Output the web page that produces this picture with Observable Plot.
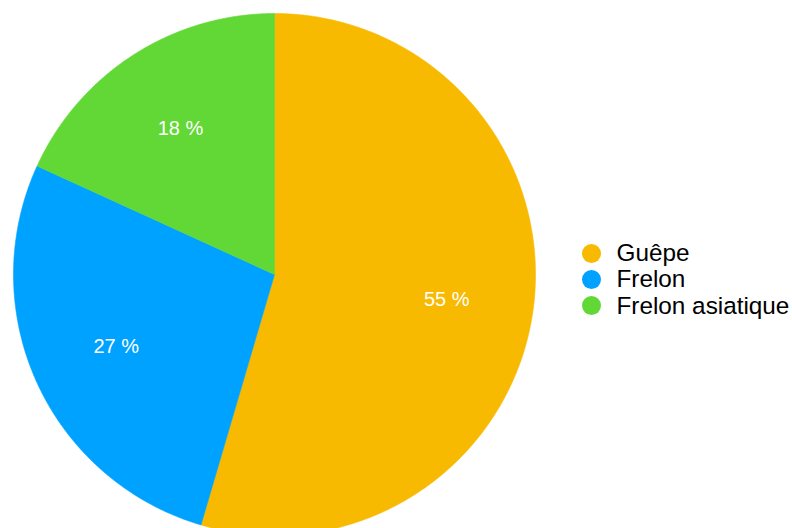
<!DOCTYPE html>
<html>
<head>
<meta charset="utf-8">
<script src="https://cdn.jsdelivr.net/npm/d3@7"></script>
<script src="https://cdn.jsdelivr.net/npm/@observablehq/plot@0.6"></script>
<style>
  html, body { margin: 0; padding: 0; background: #fff; }
  #wrap { position: relative; width: 792px; height: 528px; overflow: hidden; font-family: "Liberation Sans", Arial, sans-serif; }
  #legend { position: absolute; left: 582px; top: 240px; }
  .row { display: flex; align-items: center; height: 26.3px; font-size: 24.3px; color: #000; white-space: nowrap; }
  .sw { width: 19px; height: 19px; border-radius: 50%; margin-right: 15.5px; flex: none; }
</style>
</head>
<body>
<div id="wrap"></div>
<script>
const categories = ["Guêpe", "Frelon", "Frelon asiatique"];
const values = [6, 3, 2];
const colors = ["#F8BA00", "#00A2FF", "#61D836"];

const total = d3.sum(values);
const arcs = d3.pie().sort(null).value(d => d.value)(categories.map((c, i) => ({key: c, value: values[i]})));

// polygon points for each slice, in units of the pie radius (v pointing up)
const pts = [];
arcs.forEach(a => {
  const n = Math.max(2, Math.ceil((a.endAngle - a.startAngle) / 0.005));
  pts.push({key: a.data.key, u: 0, v: 0});
  for (let k = 0; k <= n; k++) {
    const t = a.startAngle + (a.endAngle - a.startAngle) * k / n;
    pts.push({key: a.data.key, u: Math.sin(t), v: Math.cos(t)});
  }
  pts.push({key: a.data.key, u: 0, v: 0});
});
const labels = arcs.map(a => {
  const m = (a.startAngle + a.endAngle) / 2;
  return {key: a.data.key, u: Math.sin(m) * 2 / 3, v: Math.cos(m) * 2 / 3,
          text: Math.round(a.data.value / total * 100) + " %"};
});

const W = 792, H = 528, cx = 274, cy = 274, R = 261;
const chart = Plot.plot({
  width: W, height: H,
  margin: 0,
  x: {domain: [-cx / R, (W - cx) / R], axis: null},
  y: {domain: [-(H - cy) / R, cy / R], axis: null},
  color: {domain: categories, range: colors},
  style: {fontFamily: "'Liberation Sans', Arial, sans-serif", background: "white"},
  marks: [
    Plot.line(pts, {x: "u", y: "v", z: "key", fill: "key", stroke: "key", strokeWidth: 0.6, curve: "linear"}),
    Plot.text(labels, {x: "u", y: "v", text: "text", fill: "white", fontSize: 20, textAnchor: "middle", lineAnchor: "middle"})
  ]
});
const wrap = document.getElementById("wrap");
wrap.appendChild(chart);

const legend = document.createElement("div");
legend.id = "legend";
categories.forEach((c, i) => {
  const row = document.createElement("div");
  row.className = "row";
  const sw = document.createElement("span");
  sw.className = "sw";
  sw.style.background = colors[i];
  const tx = document.createElement("span");
  tx.textContent = c;
  row.appendChild(sw);
  row.appendChild(tx);
  legend.appendChild(row);
});
wrap.appendChild(legend);
</script>
</body>
</html>
